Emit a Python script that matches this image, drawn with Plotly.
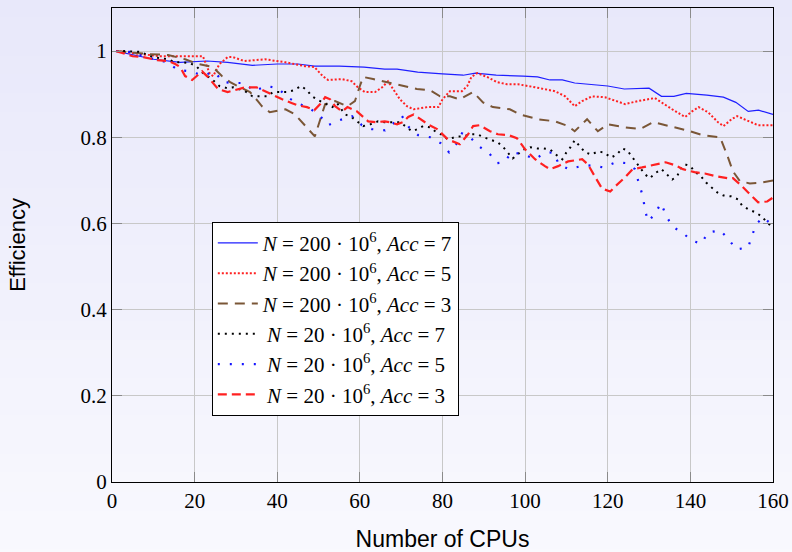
import plotly.graph_objects as go

# ---------------- data ----------------
x_a7_200 = [1, 10, 16.5, 23, 28, 34, 40, 45, 49, 55, 61, 66, 69, 74, 80, 85, 88, 93, 99.5, 103, 106, 109, 112,
            115, 120, 124, 130, 133, 136, 139, 144, 148, 151, 154, 156.5, 160]
y_a7_200 = [1.0, 0.981, 0.974, 0.977, 0.974, 0.967, 0.970, 0.970, 0.965, 0.965, 0.963, 0.958, 0.958, 0.951,
            0.947, 0.944, 0.949, 0.944, 0.942, 0.940, 0.933, 0.933, 0.926, 0.923, 0.919, 0.912, 0.914, 0.895,
            0.895, 0.902, 0.898, 0.893, 0.881, 0.860, 0.863, 0.853]

x_a5_200 = [1, 11.5, 19.5, 22, 23.7, 24.5, 26, 28, 29.3, 32, 37, 42, 46.7, 49, 51, 52.3, 55.7, 58, 59.5, 61.2,
            63.7, 65.4, 66.8, 68, 69.7, 71.4, 73, 76.3, 79, 80, 81.8, 84.7, 86, 87, 88.4, 90.8, 93.2, 95.6,
            98.3, 102.4, 107.2, 109.7, 111, 112, 113.8, 116.2, 119.3, 121.8, 124.2, 127.3, 131.4, 135.6,
            138.7, 140.4, 142, 144.3, 146.7, 148, 150, 151.3, 154, 156.4, 160]
y_a5_200 = [1.0, 0.988, 0.988, 0.988, 0.947, 0.942, 0.970, 0.986, 0.986, 0.977, 0.981, 0.974, 0.965, 0.963,
            0.942, 0.933, 0.935, 0.930, 0.916, 0.905, 0.905, 0.916, 0.930, 0.912, 0.888, 0.872, 0.865, 0.870,
            0.870, 0.888, 0.907, 0.907, 0.919, 0.940, 0.949, 0.940, 0.928, 0.923, 0.923, 0.916, 0.907, 0.895,
            0.881, 0.872, 0.884, 0.895, 0.893, 0.884, 0.877, 0.884, 0.891, 0.865, 0.847, 0.860, 0.870, 0.858,
            0.835, 0.826, 0.842, 0.849, 0.837, 0.828, 0.828]

x_a3_200 = [1, 9, 13.6, 17.7, 20.8, 24.4, 26.6, 28.6, 31, 33.4, 35.3, 36.3, 38.2, 42, 44.3, 47.2, 49.1, 51.6,
            54, 57, 58.8, 60, 60.8, 63.2, 66.6, 70.4, 73.8, 77, 79.4, 81.8, 84.2, 87.4, 89.8, 92.2, 96.3,
            98.8, 103, 107.2, 110.4, 112, 115, 117.6, 120, 124.2, 127.8, 131, 135, 139.2, 143, 147.2,
            149, 150.3, 152, 154.4, 157.3, 160]
y_a3_200 = [1.0, 0.993, 0.991, 0.981, 0.970, 0.963, 0.942, 0.928, 0.916, 0.905, 0.884, 0.872, 0.858, 0.865,
            0.853, 0.823, 0.802, 0.877, 0.884, 0.872, 0.884, 0.919, 0.940, 0.935, 0.928, 0.919, 0.912, 0.909,
            0.895, 0.895, 0.888, 0.905, 0.881, 0.870, 0.865, 0.853, 0.842, 0.837, 0.826, 0.814, 0.842, 0.814,
            0.830, 0.823, 0.819, 0.835, 0.826, 0.816, 0.805, 0.800, 0.756, 0.721, 0.698, 0.693, 0.695, 0.700]

x_a7_20 = [1, 3, 7, 8.5, 10, 11.6, 13.6, 15.3, 17, 19, 20.6, 21.8, 23.2, 24.4, 26, 27.8, 29.3, 30.5, 32.2, 34,
           35.8, 37.5, 39, 40.7, 42.4, 44, 45.8, 47.2, 48.4, 50, 51.6, 53.3, 54.5, 56.4, 58, 59.5, 60.8,
           62.5, 64.4, 66, 68, 69.7, 71.4, 72.6, 74, 75.3, 77, 78.2, 80, 81.3, 83.5, 85, 86.7, 88.4, 90, 92,
           93.4, 94.7, 96, 97, 98, 99.2, 101.2, 103, 104.3, 106, 107.7, 109, 110, 111, 112, 113.3, 114.5,
           116, 117.6, 119, 120.8, 122.2, 123.5, 124.7, 126.6, 127.8, 129, 130.2, 131.4, 133, 134.3, 135.6,
           136.8, 137.5, 138.7, 140, 141, 142.6, 143.8, 145, 146.5, 148, 149.8, 151.5, 152.5, 154, 155.7,
           157.3, 158.3, 160]
y_a7_20 = [1.0, 1.0, 0.998, 0.991, 0.986, 0.984, 0.981, 0.974, 0.974, 0.972, 0.963, 0.951, 0.942, 0.933,
           0.919, 0.914, 0.916, 0.912, 0.907, 0.895, 0.895, 0.895, 0.905, 0.905, 0.905, 0.909, 0.919, 0.909,
           0.895, 0.886, 0.879, 0.870, 0.879, 0.853, 0.847, 0.835, 0.826, 0.830, 0.837, 0.835, 0.835, 0.835,
           0.823, 0.814, 0.819, 0.826, 0.823, 0.814, 0.805, 0.795, 0.802, 0.802, 0.807, 0.807, 0.800, 0.793,
           0.788, 0.777, 0.763, 0.751, 0.758, 0.770, 0.777, 0.774, 0.774, 0.772, 0.758, 0.749, 0.765, 0.777,
           0.793, 0.779, 0.765, 0.760, 0.767, 0.765, 0.753, 0.760, 0.774, 0.770, 0.744, 0.730, 0.714, 0.705,
           0.716, 0.726, 0.714, 0.702, 0.709, 0.726, 0.737, 0.733, 0.721, 0.709, 0.695, 0.684, 0.672, 0.665,
           0.663, 0.656, 0.642, 0.633, 0.626, 0.616, 0.605, 0.590]

x_a5_20 = [1, 4.4, 7.5, 10.4, 13.3, 16, 18.9, 21.8, 24.9, 26.9, 29.5, 32, 34.4, 37.3, 40.2, 42.4, 45, 47.9,
           50.4, 52.3, 55.2, 58.1, 60.5, 62.9, 66.1, 70.2, 71.9, 74.1, 77, 79.6, 81.6, 83.3, 84.7, 86.7,
           88.8, 91.3, 93.2, 94.9, 96.8, 99.7, 102.4, 104.6, 106.8, 108.2, 110.6, 113.5, 116.2, 118.9, 122,
           124.7, 126.6, 127.6, 128.5, 129, 129.7, 131.2, 132.9, 134.1, 135.6, 138, 140.4, 142.6, 144.3,
           147.2, 149.1, 151.1, 154, 154.9, 156.1, 157.6, 160]
y_a5_20 = [1.0, 0.998, 0.988, 0.981, 0.974, 0.956, 0.953, 0.944, 0.951, 0.928, 0.926, 0.926, 0.907, 0.919,
           0.914, 0.893, 0.879, 0.867, 0.849, 0.828, 0.840, 0.849, 0.828, 0.819, 0.816, 0.849, 0.823, 0.805,
           0.800, 0.786, 0.765, 0.784, 0.809, 0.800, 0.779, 0.763, 0.740, 0.742, 0.765, 0.760, 0.749, 0.763,
           0.765, 0.737, 0.726, 0.733, 0.735, 0.730, 0.742, 0.740, 0.726, 0.691, 0.663, 0.633, 0.605, 0.619,
           0.647, 0.619, 0.593, 0.579, 0.560, 0.553, 0.579, 0.584, 0.565, 0.540, 0.544, 0.572, 0.600, 0.614,
           0.595]

x_a3_20 = [1, 5, 7.5, 11, 13.6, 15.3, 16.5, 17.7, 19.4, 20.6, 21.8, 23, 24.2, 25.7, 28, 30.3, 32.2, 35, 37,
           38.7, 41.2, 43.6, 45, 47.2, 49, 50.4, 51.6, 52.8, 54, 55.7, 57, 59.3, 60.5, 62, 64, 66, 67.3, 69,
           70.4, 71.7, 73, 74.6, 76.5, 78.7, 80, 81.3, 84.2, 86.2, 87.4, 89, 91.5, 93.4, 96, 98, 100, 102.4,
           104.8, 106, 108, 110.4, 113.8, 115.2, 117, 118.6, 120.6, 121.8, 124.2, 126, 128.3, 131.4, 134,
           136.3, 138.2, 141, 143.5, 146.5, 149, 150.3, 152, 154, 156.4, 158.6, 160]
y_a3_20 = [1.0, 0.988, 0.986, 0.979, 0.977, 0.970, 0.963, 0.942, 0.933, 0.942, 0.953, 0.942, 0.928, 0.912,
           0.905, 0.912, 0.916, 0.916, 0.907, 0.898, 0.888, 0.879, 0.874, 0.870, 0.863, 0.877, 0.893, 0.888,
           0.872, 0.860, 0.870, 0.860, 0.849, 0.837, 0.835, 0.837, 0.835, 0.830, 0.835, 0.847, 0.853, 0.842,
           0.830, 0.819, 0.807, 0.795, 0.784, 0.807, 0.826, 0.828, 0.814, 0.807, 0.805, 0.798, 0.772, 0.749,
           0.733, 0.726, 0.733, 0.744, 0.749, 0.737, 0.707, 0.681, 0.674, 0.686, 0.707, 0.726, 0.730, 0.737,
           0.742, 0.735, 0.726, 0.719, 0.716, 0.709, 0.705, 0.705, 0.691, 0.672, 0.649, 0.651, 0.660]

x_ticks = [0, 20, 40, 60, 80, 100, 120, 140, 160]
y_ticks = [0, 0.2, 0.4, 0.6, 0.8, 1]
y_tick_text = ["0", "0.2", "0.4", "0.6", "0.8", "1"]

IND = "\u2009"
names = [
    "<i>N</i> = 200 · 10<sup>6</sup>, <i>Acc</i> = 7",
    "<i>N</i> = 200 · 10<sup>6</sup>, <i>Acc</i> = 5",
    "<i>N</i> = 200 · 10<sup>6</sup>, <i>Acc</i> = 3",
    f"{IND}<i>N</i> = 20 · 10<sup>6</sup>, <i>Acc</i> = 7",
    f"{IND}<i>N</i> = 20 · 10<sup>6</sup>, <i>Acc</i> = 5",
    f"{IND}<i>N</i> = 20 · 10<sup>6</sup>, <i>Acc</i> = 3",
]
colors = ["#1f1fff", "#ff2020", "#7a5636", "#000000", "#1414ff", "#ff2020"]
dashes = ["solid", "2px,2px", "10px,7px", "2px,5px", "2px,10px", "9px,5px"]
widths = [1.2, 2, 2, 2, 2.2, 2.2]
series = [(x_a7_200, y_a7_200), (x_a5_200, y_a5_200), (x_a3_200, y_a3_200),
          (x_a7_20, y_a7_20), (x_a5_20, y_a5_20), (x_a3_20, y_a3_20)]

fig = go.Figure()
for (xs, ys), nm, c, d, w in zip(series, names, colors, dashes, widths):
    fig.add_trace(go.Scatter(x=xs, y=ys, mode="lines", name=nm,
                             line=dict(color=c, dash=d, width=w)))

# subtle vertical background gradient (lavender -> near white)
top = (232, 232, 250)
bot = (249, 249, 254)
nb = 30
shapes = []
for i in range(nb):
    t = i / (nb - 1)
    col = tuple(round(top[k] + (bot[k] - top[k]) * t) for k in range(3))
    y1 = 1.02 - i * (1.2 / nb)
    shapes.append(dict(type="rect", xref="paper", yref="paper", layer="below",
                       x0=-0.2, x1=1.1, y0=y1 - 1.2 / nb - 0.002, y1=y1,
                       fillcolor="rgb(%d,%d,%d)" % col, line=dict(width=0)))

serif = "Liberation Serif, Times New Roman, serif"
sans = "Liberation Sans, Arial, sans-serif"

fig.update_layout(
    width=792, height=552,
    margin=dict(l=112, r=19, t=8, b=70),
    paper_bgcolor="rgb(249,249,254)",
    plot_bgcolor="rgba(0,0,0,0)",
    shapes=shapes,
    showlegend=True,
    legend=dict(x=0.151, y=0.549, xanchor="left", yanchor="top",
                bgcolor="white", bordercolor="black", borderwidth=1,
                font=dict(family=serif, size=21, color="black"),
                tracegroupgap=0, itemwidth=40),
    xaxis=dict(range=[0, 160], tickvals=x_ticks, ticks="inside", ticklen=10,
               tickcolor="#8a8a8a", showline=True, linecolor="black", linewidth=1.2,
               mirror="ticks", showgrid=True, gridcolor="#c8c8c8", gridwidth=1,
               zeroline=False, automargin=False,
               tickfont=dict(family=serif, size=21, color="black"),
               title=dict(text="Number of CPUs", font=dict(family=sans, size=23, color="black"),
                          standoff=24)),
    yaxis=dict(range=[0, 1.1], tickvals=y_ticks, ticktext=y_tick_text, ticks="inside",
               ticklen=10, tickcolor="#8a8a8a", showline=True, linecolor="black",
               linewidth=1.2, mirror="ticks", showgrid=True, gridcolor="#c8c8c8", gridwidth=1,
               zeroline=False, automargin=False,
               tickfont=dict(family=serif, size=21, color="black"),
               title=dict(text="Efficiency", font=dict(family=sans, size=22, color="black"),
                          standoff=48)),
)

fig.write_html("out.html")
